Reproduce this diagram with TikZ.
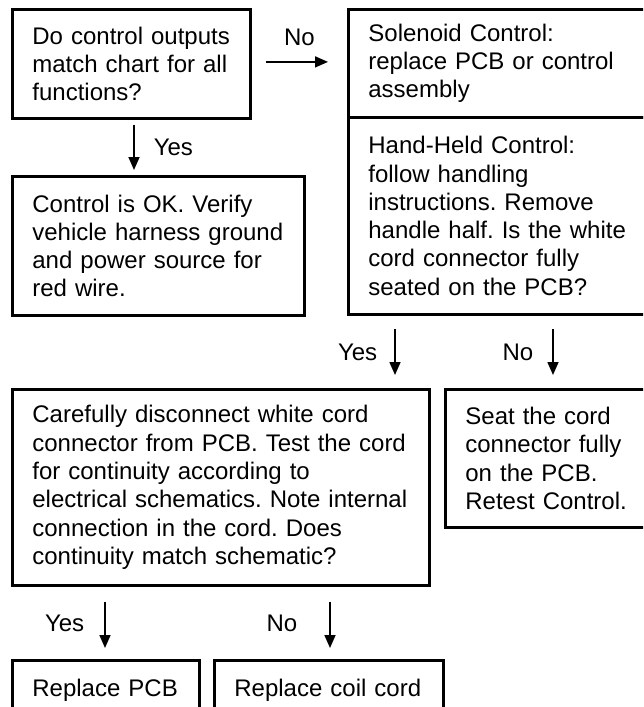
\documentclass[tikz,border=0pt]{standalone}
\usepackage{fontspec}
\setmainfont{Liberation Sans}
\usetikzlibrary{arrows.meta,calc}
\frenchspacing
\tikzset{
  % boxes of the chart
  box/.style={draw=black, line width=2.8pt, anchor=north west, align=left,
    inner xsep=20pt, inner ysep=0pt,
    font=\fontsize{24}{28.3}\selectfont},
  % arrows between the boxes
  flow/.style={-{Triangle[width=11pt,length=13pt]}, line width=1.6pt},
  answer/.style={inner sep=0pt, font=\fontsize{24}{28.3}\selectfont},
}
\begin{document}
\begin{tikzpicture}[x=1pt,y=-1pt]
\clip (0,0) rectangle (643,707);
\node[box, text width=198pt, minimum height=109pt] (outputs) at (11,8) {Do control outputs\\match chart for all\\functions?};
\node[box, text width=273pt, minimum height=108pt] (solenoid) at (347,8) {Solenoid Control:\\replace PCB or control\\assembly};
\node[box, text width=273pt, minimum height=197pt] (handheld) at (347,116) {Hand-Held Control:\\follow handling\\instructions. Remove\\handle half. Is the white\\cord connector fully\\seated on the PCB?};
\node[box, text width=252pt, minimum height=139pt] (controlok) at (11,175) {Control is OK. Verify\\vehicle harness ground\\and power source for\\red wire.};
\node[box, text width=377pt, minimum height=196pt] (continuity) at (11,388) {Carefully disconnect white cord\\connector from PCB. Test the cord\\for continuity according to\\electrical schematics. Note internal\\connection in the cord. Does\\continuity match schematic?};
\node[box, text width=176pt, minimum height=138pt] (seat) at (444,388) {Seat the cord\\connector fully\\on the PCB.\\Retest Control.};
\node[box, text width=147pt, minimum height=60pt] (pcb) at (11,659) {Replace PCB};
\node[box, text width=189pt, minimum height=60pt] (coilcord) at (213,659) {Replace coil cord};

\coordinate (ayes) at ($(outputs.south west)+(123,0)$);
\coordinate (hyes) at ($(handheld.south west)+(48,0)$);
\coordinate (hno) at ($(handheld.south west)+(206,0)$);
\coordinate (cyes) at ($(continuity.south west)+(94,0)$);
\coordinate (cno) at ($(continuity.south west)+(319,0)$);

\draw[flow, shorten <=14pt, shorten >=19pt] ([yshift=2pt]outputs.east) -- ([yshift=2pt]outputs.east -| solenoid.west) node[midway, above=15pt, answer] {No};
\draw[flow, shorten <=5pt, shorten >=5pt] (ayes) -- (ayes |- controlok.north) node[midway, right=19pt, answer] {Yes};
\draw[flow, shorten <=13pt, shorten >=13pt] (hyes) -- (hyes |- continuity.north) node[midway, left=17pt, answer] {Yes};
\draw[flow, shorten <=13pt, shorten >=13pt] (hno) -- (hno |- seat.north) node[midway, left=19pt, answer] {No};
\draw[flow, shorten <=15pt, shorten >=11pt] (cyes) -- (cyes |- pcb.north) node[midway, left=20pt, answer] {Yes};
\draw[flow, shorten <=15pt, shorten >=11pt] (cno) -- (cno |- coilcord.north) node[midway, left=32pt, answer] {No};
\end{tikzpicture}
\end{document}
